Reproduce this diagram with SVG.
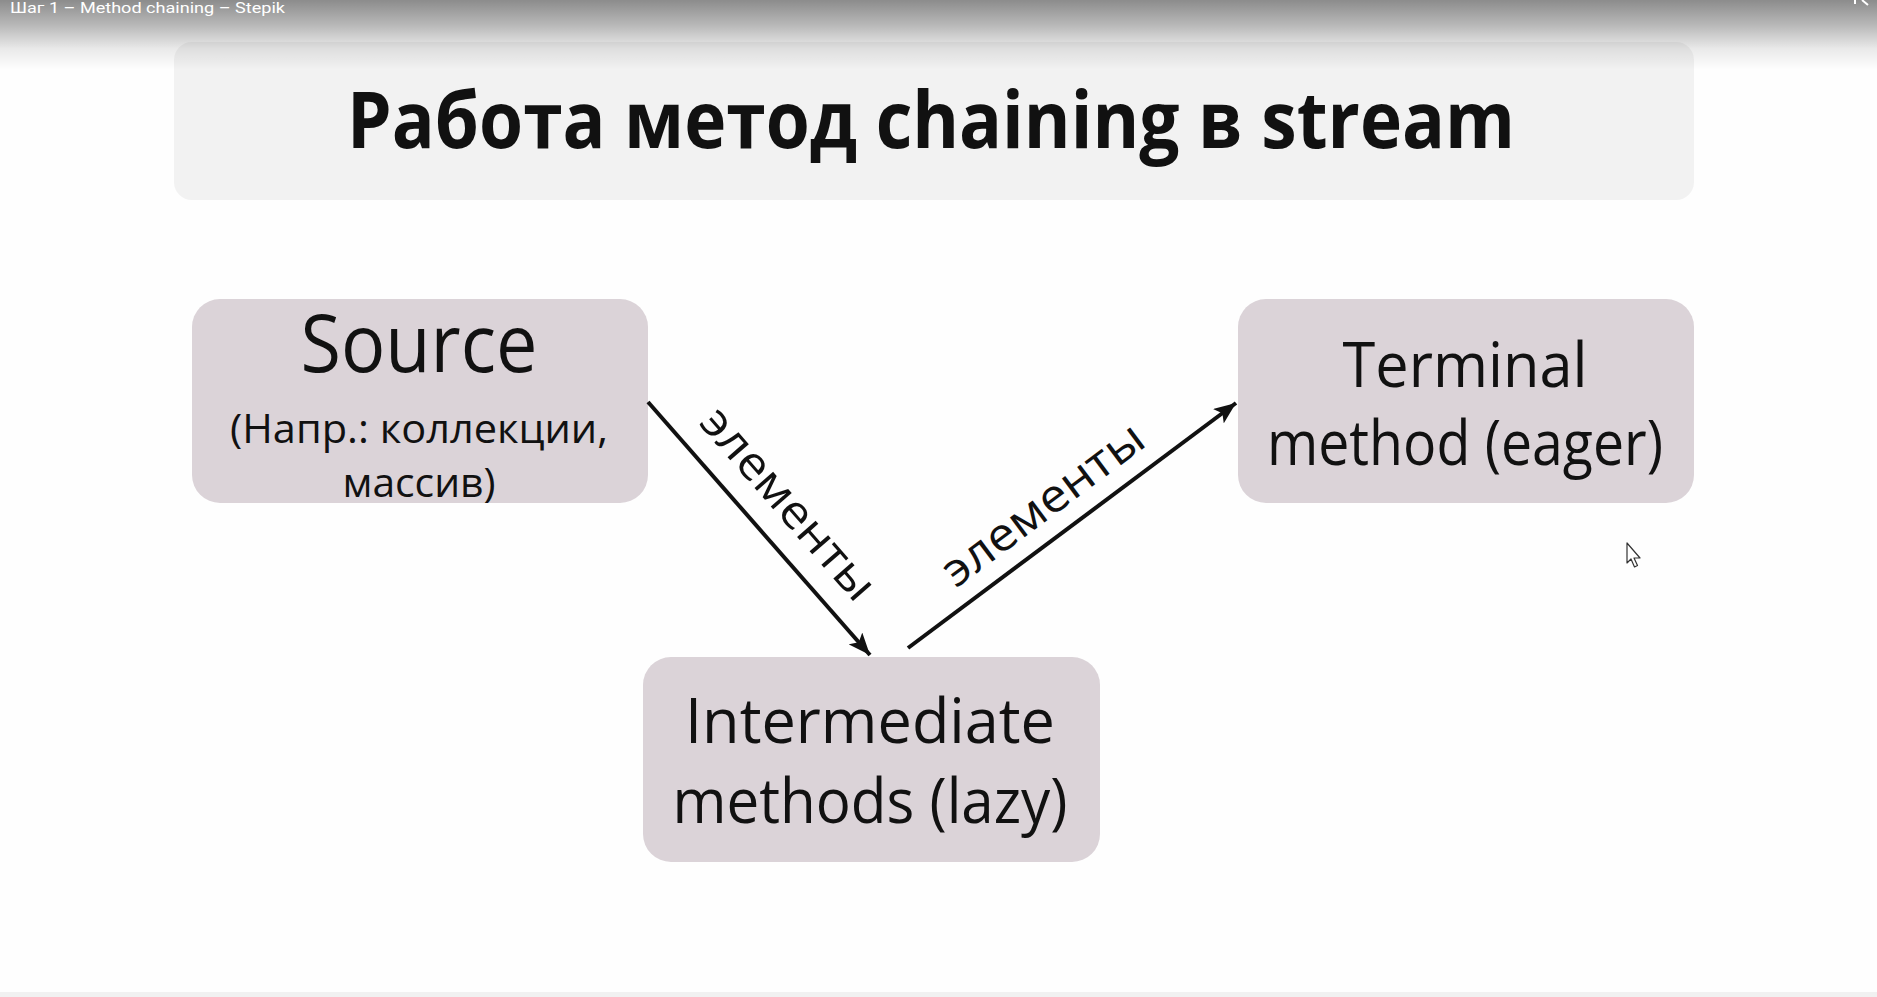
<svg xmlns="http://www.w3.org/2000/svg" width="1877" height="997" viewBox="0 0 1877 997">
  <defs>
    <linearGradient id="topShade" x1="0" y1="0" x2="0" y2="1">
      <stop offset="0" stop-color="#000" stop-opacity="0.45"/>
      <stop offset="0.35" stop-color="#000" stop-opacity="0.28"/>
      <stop offset="0.7" stop-color="#000" stop-opacity="0.08"/>
      <stop offset="1" stop-color="#000" stop-opacity="0"/>
    </linearGradient>
    <marker id="arrowHead" markerUnits="userSpaceOnUse" markerWidth="24" markerHeight="18" refX="22" refY="9" orient="auto">
      <path d="M0,0 L22,9 L0,18 L5,9 Z" fill="#111"/>
    </marker>
    <style>
      .node rect { fill: #dbd3d8; }
      .txt { font-family: "Open Sans", "Noto Sans", "DejaVu Sans", sans-serif; fill: #111; text-anchor: middle; }
      .big { font-size: 80px; }
      .mid { font-size: 62px; }
      .small { font-size: 40px; }
      .edge { stroke: #111; stroke-width: 4; fill: none; marker-end: url(#arrowHead); }
      .edgeLabel { font-family: "Open Sans", "Noto Sans", "DejaVu Sans", sans-serif; font-size: 46px; fill: #111; text-anchor: middle; }
    </style>
  </defs>

  <!-- page background -->
  <rect x="0" y="0" width="1877" height="997" fill="#fefefe"/>
  <rect x="0" y="992" width="1877" height="5" fill="#f1f1f1"/>

  <!-- title banner -->
  <g id="title">
    <rect x="174" y="42" width="1520" height="158" rx="18" fill="#f2f2f2"/>
    <text class="txt" x="931" y="148" font-size="78" font-weight="bold" textLength="1168" lengthAdjust="spacingAndGlyphs">Работа метод chaining в stream</text>
  </g>

  <!-- player header shading -->
  <rect x="0" y="0" width="1877" height="70" fill="url(#topShade)"/>
  <text x="10" y="13" font-family="Roboto, 'Liberation Sans', sans-serif" font-size="15" fill="#fff" textLength="275" lengthAdjust="spacingAndGlyphs">Шаг 1 – Method chaining – Stepik</text>
  <path d="M1855,0 L1855,4 M1862,0 L1868,5" stroke="#fff" stroke-width="2" fill="none"/>

  <!-- nodes -->
  <g id="source" class="node">
    <rect x="192" y="299" width="456" height="204" rx="28"/>
    <text class="txt big" x="419" y="372" textLength="237" lengthAdjust="spacingAndGlyphs">Source</text>
    <text class="txt small" x="419" y="443" textLength="378" lengthAdjust="spacingAndGlyphs">(Напр.: коллекции,</text>
    <text class="txt small" x="419" y="497" textLength="153" lengthAdjust="spacingAndGlyphs">массив)</text>
  </g>

  <g id="terminal" class="node">
    <rect x="1238" y="299" width="456" height="204" rx="28"/>
    <text class="txt mid" x="1465" y="387" textLength="245" lengthAdjust="spacingAndGlyphs">Terminal</text>
    <text class="txt mid" x="1465" y="465" textLength="396" lengthAdjust="spacingAndGlyphs">method (eager)</text>
  </g>

  <g id="intermediate" class="node">
    <rect x="643" y="657" width="457" height="205" rx="28"/>
    <text class="txt mid" x="870" y="743" textLength="370" lengthAdjust="spacingAndGlyphs">Intermediate</text>
    <text class="txt mid" x="870" y="823" textLength="395" lengthAdjust="spacingAndGlyphs">methods (lazy)</text>
  </g>

  <!-- connectors -->
  <g id="connectors">
    <line class="edge" x1="648" y1="402" x2="870" y2="655"/>
    <text class="edgeLabel" transform="translate(786,506) rotate(48.9)" x="0" y="12" textLength="240" lengthAdjust="spacingAndGlyphs">элементы</text>
    <line class="edge" x1="908" y1="648" x2="1236" y2="403"/>
    <text class="edgeLabel" transform="translate(1045,507) rotate(-36.8)" x="0" y="12" textLength="240" lengthAdjust="spacingAndGlyphs">элементы</text>
  </g>

  <!-- mouse pointer -->
  <path d="M1627,543 L1627,563 L1631,559 L1634.5,567 L1637.5,565.5 L1634,558 L1640,558 Z" fill="#fff" stroke="#333" stroke-width="1.2" stroke-linejoin="round"/>
</svg>
